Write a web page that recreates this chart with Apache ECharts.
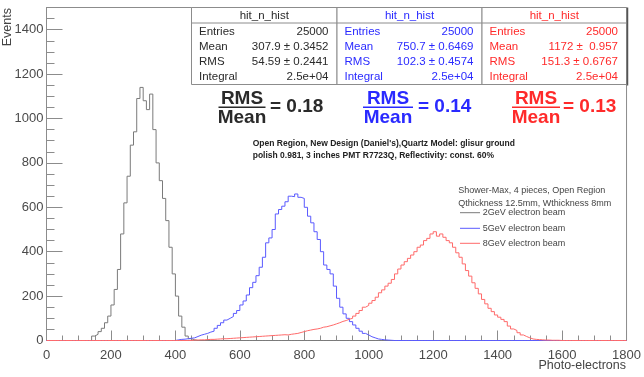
<!DOCTYPE html>
<html>
<head>
<meta charset="utf-8">
<script src="https://cdn.jsdelivr.net/npm/echarts@6/dist/echarts.min.js"></script>
<style>
  html, body { margin: 0; padding: 0; background: #fff; }
  #chart { width: 644px; height: 377px; }
</style>
</head>
<body>
<div id="chart"></div>
<script>
// Histogram binning (photo-electrons)
const binWidth = 10;
const xMin = 0, xMax = 1800, yMax = 1500;

// 2 GeV electron beam, counts per bin starting at blackStart
const blackStart = 140;
const blackCounts = [20, 28, 40, 55, 80, 110, 160, 230, 320, 480, 620, 740, 880, 940, 1090, 1140,
  1080, 1040, 1110, 950, 800, 720, 640, 540, 420, 300, 200, 110, 60, 20, 8, 3];

// 5 GeV electron beam
const blueStart = 400;
const blueCounts = [3, 5, 6, 8, 10, 12, 18, 24, 28, 32, 38, 42, 55, 68, 80, 92, 100, 108, 122, 135,
  160, 178, 205, 238, 262, 292, 330, 375, 440, 462, 500, 570, 590, 605, 625, 650, 648, 660, 645, 640,
  600, 560, 530, 490, 455, 400, 340, 320, 300, 245, 190, 150, 120, 100, 85, 70, 55, 42, 32, 25,
  17, 12, 7, 5, 3, 2, 1];

// 8 GeV electron beam
const redStart = 450;
const redCounts = [2, 2, 3, 3, 4, 5, 5, 6, 7, 8, 8, 9, 10, 11, 12, 13, 14, 15, 16, 17,
  18, 19, 20, 21, 22, 23, 24, 25, 26, 25, 28, 30, 32, 36, 40, 44, 47, 50, 52, 55,
  60, 62, 66, 70, 75, 80, 86, 90, 96, 100, 110, 122, 135, 150, 158, 168, 180, 195, 215, 228,
  245, 258, 275, 300, 322, 340, 355, 370, 385, 400, 420, 430, 450, 460, 480, 490, 470, 480, 465, 450,
  440, 420, 395, 375, 345, 315, 290, 260, 235, 210, 185, 165, 145, 130, 115, 105, 95, 85, 65, 52,
  45, 35, 25, 18, 12, 7, 5, 4, 3, 2, 2, 1, 1, 1];

// Statistics boxes
const statTitle = 'hit_n_hist';
const statEntries = ['25000', '25000', '25000'];
const statMean = ['307.9 \u00b1 0.3452', '750.7 \u00b1 0.6469', '1172 \u00b1  0.957'];
const statRms = ['54.59 \u00b1 0.2441', '102.3 \u00b1 0.4574', '151.3 \u00b1 0.6767'];
const statIntegral = ['2.5e+04', '2.5e+04', '2.5e+04'];
const ratioText = ['0.18', '0.14', '0.13'];

const legendHeader = ['Shower-Max, 4 pieces, Open Region', 'Qthickness 12.5mm, Wthickness 8mm'];
const legendNames = ['2GeV electron beam', '5GeV electron beam', '8GeV electron beam'];
const noteLines = ["Open Region, New Design (Daniel's),Quartz Model: glisur ground",
  'polish 0.981, 3 inches PMT R7723Q, Reflectivity: const. 60%'];

const histColors = ['#7a7a7a', '#5a5aff', '#ff6a6a'];
const textColors = ['#2a2a2a', '#2a2aff', '#ff2a2a'];
const FONT = '"Liberation Sans", Arial, Helvetica, sans-serif';

function histPoints(start, counts) {
  const pts = [];
  for (let e = xMin; e < xMax; e += binWidth) {
    const i = Math.round((e - start) / binWidth);
    pts.push([e, (i >= 0 && i < counts.length) ? counts[i] : 0]);
  }
  pts.push([xMax, 0]);
  return pts;
}

const chart = echarts.init(document.getElementById('chart'), null, { renderer: 'canvas' });

const graphics = [];

// Stat boxes
const boxX = [191.5, 337, 482];
const boxW = [145.5, 145, 144.5];
const boxTop = 7.5, boxTitleBottom = 23, boxBottom = 84.5;
const rowY = [31.5, 46.5, 61.5, 76.5];
const rowLabels = ['Entries', 'Mean', 'RMS', 'Integral'];
for (let k = 0; k < 3; k++) {
  const x = boxX[k], w = boxW[k];
  graphics.push({ type: 'rect', shape: { x: x, y: boxTop, width: w, height: boxBottom - boxTop },
    style: { fill: '#fff', stroke: '#8c8c8c', lineWidth: 1 }, z: 10 });
  graphics.push({ type: 'line', shape: { x1: x, y1: boxTitleBottom, x2: x + w, y2: boxTitleBottom },
    style: { stroke: '#8c8c8c', lineWidth: 1 }, z: 11 });
  graphics.push({ type: 'text', x: x + w / 2, y: 15.5, z: 12,
    style: { text: statTitle, font: '11.5px ' + FONT, fill: textColors[k], align: 'center', verticalAlign: 'middle' } });
  const vals = [statEntries[k], statMean[k], statRms[k], statIntegral[k]];
  for (let r = 0; r < 4; r++) {
    graphics.push({ type: 'text', x: x + 7.5, y: rowY[r], z: 12,
      style: { text: rowLabels[r], font: '11.5px ' + FONT, fill: textColors[k], align: 'left', verticalAlign: 'middle' } });
    graphics.push({ type: 'text', x: x + w - 8.5, y: rowY[r], z: 12,
      style: { text: vals[r], font: '11.5px ' + FONT, fill: textColors[k], align: 'right', verticalAlign: 'middle' } });
  }
}
// shadow on the right of the last box
graphics.push({ type: 'line', shape: { x1: 627.5, y1: boxTop, x2: 627.5, y2: boxBottom + 1 },
  style: { stroke: '#555', lineWidth: 1.5 }, z: 12 });

// RMS / Mean fractions
const fracCenter = [242, 388, 536];
const fracHalf = [23.5, 25, 24];
const eqLeft = [270, 418, 563];
for (let k = 0; k < 3; k++) {
  const bold = 'bold 19px ' + FONT;
  graphics.push({ type: 'text', x: fracCenter[k], y: 99, z: 12,
    style: { text: 'RMS', font: bold, fill: textColors[k], align: 'center', verticalAlign: 'middle' } });
  graphics.push({ type: 'line', shape: { x1: fracCenter[k] - fracHalf[k], y1: 107.3, x2: fracCenter[k] + fracHalf[k], y2: 107.3 },
    style: { stroke: textColors[k], lineWidth: 1.6 }, z: 12 });
  graphics.push({ type: 'text', x: fracCenter[k], y: 117.5, z: 12,
    style: { text: 'Mean', font: bold, fill: textColors[k], align: 'center', verticalAlign: 'middle' } });
  graphics.push({ type: 'text', x: eqLeft[k], y: 107, z: 12,
    style: { text: '= ' + ratioText[k], font: bold, fill: textColors[k], align: 'left', verticalAlign: 'middle' } });
}

// Simulation notes
noteLines.forEach(function (t, i) {
  graphics.push({ type: 'text', x: 252.7, y: 143.3 + i * 12.7, z: 12,
    style: { text: t, font: 'bold 8.5px ' + FONT, fill: '#222', align: 'left', verticalAlign: 'middle' } });
});

// Legend
legendHeader.forEach(function (t, i) {
  graphics.push({ type: 'text', x: 458.3, y: 190.7 + i * 12.6, z: 12,
    style: { text: t, font: '9px ' + FONT, fill: '#444', align: 'left', verticalAlign: 'middle' } });
});
const legY = [212.7, 228.3, 243.3];
legendNames.forEach(function (t, i) {
  graphics.push({ type: 'line', shape: { x1: 460, y1: legY[i], x2: 480, y2: legY[i] },
    style: { stroke: histColors[i], lineWidth: 1 }, z: 12 });
  graphics.push({ type: 'text', x: 482.7, y: legY[i], z: 12,
    style: { text: t, font: '9px ' + FONT, fill: '#444', align: 'left', verticalAlign: 'middle' } });
});

// Axis titles
graphics.push({ type: 'text', x: 7.5, y: 8, rotation: Math.PI / 2, z: 12,
  style: { text: 'Events', font: '12.5px ' + FONT, fill: '#444', align: 'right', verticalAlign: 'middle' } });
graphics.push({ type: 'text', x: 626, y: 366, z: 12,
  style: { text: 'Photo-electrons', font: '12.5px ' + FONT, fill: '#444', align: 'right', verticalAlign: 'middle' } });

const axisColor = '#8c8c8c';
const plainNumber = function (v) { return String(v); };
const labelStyle = { color: '#4a4a4a', fontFamily: FONT, fontSize: 13, formatter: plainNumber };

chart.setOption({
  animation: false,
  backgroundColor: '#fff',
  grid: { left: 46.5, right: 17, top: 7.5, bottom: 36.5, show: true, borderColor: axisColor, borderWidth: 1, backgroundColor: 'transparent' },
  xAxis: {
    type: 'value', min: xMin, max: xMax, interval: 200,
    axisLine: { lineStyle: { color: axisColor } },
    axisTick: { inside: true, length: 10, lineStyle: { color: axisColor } },
    minorTick: { show: true, splitNumber: 4, length: 5, lineStyle: { color: axisColor } },
    splitLine: { show: false },
    axisLabel: Object.assign({ margin: 8 }, labelStyle)
  },
  yAxis: {
    type: 'value', min: 0, max: yMax, interval: 200,
    axisLine: { show: true, lineStyle: { color: axisColor } },
    axisTick: { show: true, inside: true, length: 16, lineStyle: { color: axisColor } },
    minorTick: { show: true, splitNumber: 4, length: 8, lineStyle: { color: axisColor } },
    splitLine: { show: false },
    axisLabel: Object.assign({ margin: 3, showMaxLabel: false }, labelStyle)
  },
  series: [
    { name: legendNames[0], type: 'line', step: 'end', symbol: 'none', data: histPoints(blackStart, blackCounts),
      lineStyle: { color: histColors[0], width: 1 }, z: 3 },
    { name: legendNames[1], type: 'line', step: 'end', symbol: 'none', data: histPoints(blueStart, blueCounts),
      lineStyle: { color: histColors[1], width: 1 }, z: 4 },
    { name: legendNames[2], type: 'line', step: 'end', symbol: 'none', data: histPoints(redStart, redCounts),
      lineStyle: { color: histColors[2], width: 1 }, z: 5 }
  ],
  graphic: graphics
});
</script>
</body>
</html>
